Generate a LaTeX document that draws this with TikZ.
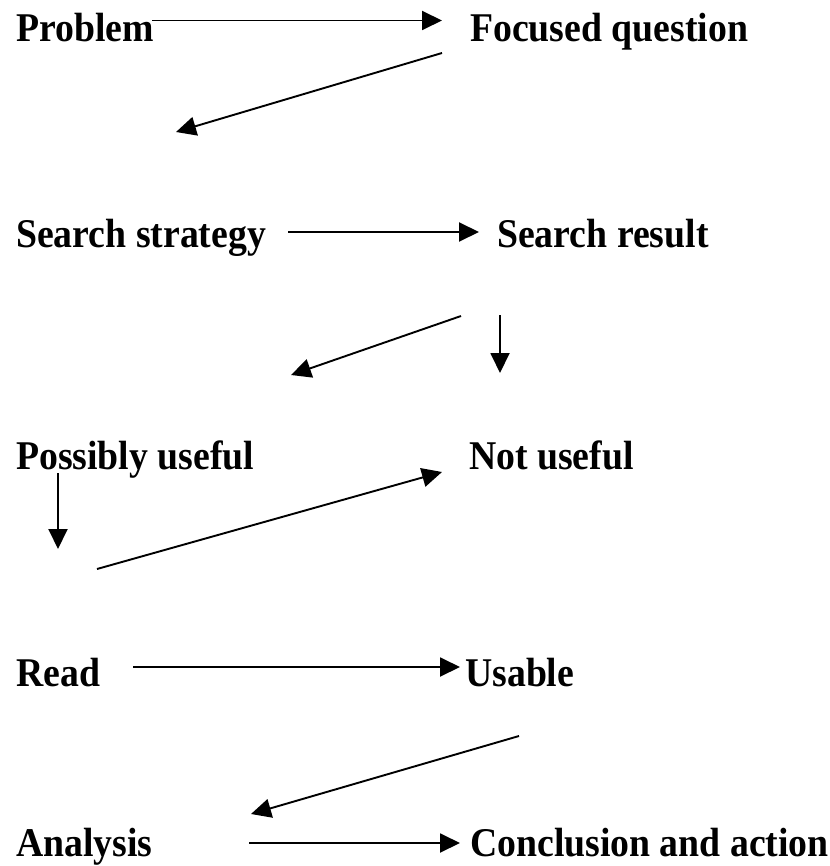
\documentclass[tikz,border=0pt]{standalone}
\usepackage{fontspec}
\setmainfont{Liberation Serif}[FakeStretch=0.925]
\usetikzlibrary{arrows.meta}
\begin{document}
\begin{tikzpicture}[x=1pt,y=-1pt,
  lbl/.style={anchor=base west,inner sep=0pt,font=\fontsize{40.8}{48}\selectfont\bfseries},
  conn/.style={line width=1.9pt,-{Triangle[length=20pt,width=19pt]}}]
\useasboundingbox (0,0) rectangle (829,866);
% labels
\node[lbl] (prob) at (16,42) {Problem};
\node[lbl] (focq) at (470,42) {Focused question};
\node[lbl] (sstr) at (16,248) {Search strategy};
\node[lbl] (sres) at (497,248) {Search result};
\node[lbl] (posu) at (16,469) {Possibly useful};
\node[lbl] (notu) at (469,469) {Not useful};
\node[lbl] (read) at (16,686) {Read};
\node[lbl] (usab) at (465,686) {Usable};
\node[lbl] (anal) at (16,856) {Analysis};
\node[lbl] (conc) at (470,856) {Conclusion and action};
% connector end points
\coordinate (a1s) at (152,20.5);  \coordinate (a1e) at (442,20.5);
\coordinate (a2s) at (442,53);    \coordinate (a2e) at (176,132);
\coordinate (a3s) at (288,232);   \coordinate (a3e) at (479,232);
\coordinate (a4s) at (461,316);   \coordinate (a4e) at (291,375);
\coordinate (a5s) at (500,315);   \coordinate (a5e) at (500,373);
\coordinate (a6s) at (58,473);    \coordinate (a6e) at (58,549);
\coordinate (a7s) at (97,569);    \coordinate (a7e) at (442,472);
\coordinate (a8s) at (133,667);   \coordinate (a8e) at (460,667);
\coordinate (a9s) at (519,736);   \coordinate (a9e) at (251,814);
\coordinate (a10s) at (249,843);  \coordinate (a10e) at (460,843);
% connectors
\draw[conn] (a1s) -- (a1e);
\draw[conn] (a2s) -- (a2e);
\draw[conn] (a3s) -- (a3e);
\draw[conn] (a4s) -- (a4e);
\draw[conn] (a5s) -- (a5e);
\draw[conn] (a6s) -- (a6e);
\draw[conn] (a7s) -- (a7e);
\draw[conn] (a8s) -- (a8e);
\draw[conn] (a9s) -- (a9e);
\draw[conn] (a10s) -- (a10e);
\end{tikzpicture}
\end{document}
